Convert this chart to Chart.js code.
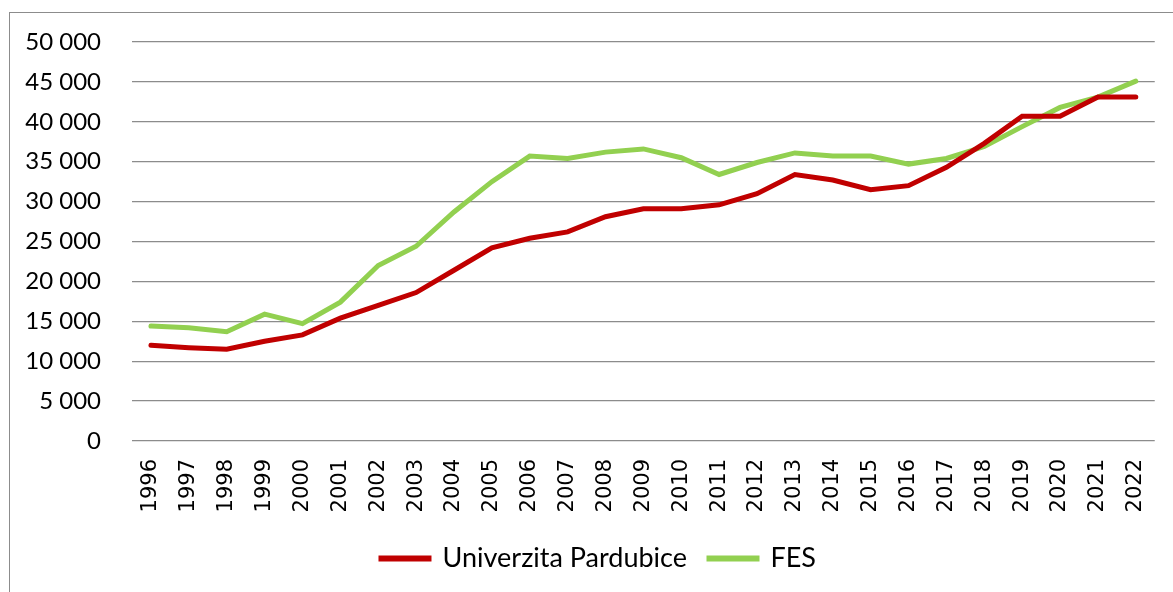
<!DOCTYPE html>
<html>
<head>
<meta charset="utf-8">
<script src="https://cdn.jsdelivr.net/npm/chart.js@4"></script>
<style>
  html, body { margin: 0; padding: 0; background: #fff; overflow: hidden; }
  #frame { position: absolute; left: 9px; top: 12px; width: 1300px; height: 700px; border: 1.5px solid #8c8c8c; }
  #wrap { position: absolute; left: 0; top: 0; width: 1173px; height: 592px; }
</style>
</head>
<body>
<div id="frame"></div>
<div id="wrap"><canvas id="lineChart"></canvas></div>
<script>
// years
const years = ["1996","1997","1998","1999","2000","2001","2002","2003","2004","2005","2006","2007","2008","2009",
  "2010","2011","2012","2013","2014","2015","2016","2017","2018","2019","2020","2021","2022"];

// Univerzita Pardubice
const upce = [12000, 11700, 11500, 12500, 13300, 15400, 17000, 18600, 21400, 24200, 25400, 26200, 28100, 29100,
  29100, 29600, 31000, 33400, 32700, 31500, 32000, 34300, 37300, 40700, 40700, 43100, 43100];

// FES
const fes = [14400, 14200, 13700, 15900, 14700, 17400, 22000, 24400, 28700, 32500, 35700, 35400, 36200, 36600,
  35500, 33400, 34900, 36100, 35700, 35700, 34700, 35400, 36900, 39400, 41800, 43100, 45100];

const yTicks = [0, 5000, 10000, 15000, 20000, 25000, 30000, 35000, 40000, 45000, 50000];

function fmt(v) {
  return String(v).replace(/\B(?=(\d{3})+(?!\d))/g, " ");
}

document.addEventListener("DOMContentLoaded", function () {
  const ctx = document.getElementById("lineChart").getContext("2d");
  new Chart(ctx, {
    type: "line",
    data: {
      labels: years,
      datasets: [
        {
          label: "Univerzita Pardubice",
          data: upce,
          borderColor: "#c00000",
          backgroundColor: "#c00000",
          borderWidth: 5,
          pointRadius: 0,
          tension: 0,
          borderCapStyle: "round",
        },
        {
          label: "FES",
          data: fes,
          borderColor: "#92d050",
          backgroundColor: "#92d050",
          borderWidth: 5,
          pointRadius: 0,
          tension: 0,
          borderCapStyle: "round",
        },
      ],
    },
    options: {
      responsive: true,
      maintainAspectRatio: false,
      animation: false,
      layout: { padding: { left: 24, right: 0, top: 42, bottom: 10 } },
      plugins: {
        tooltip: { enabled: false },
        legend: {
          position: "bottom",
          labels: {
            color: "#000",
            font: { family: "Lato", size: 27 },
            boxWidth: 48,
            boxHeight: 1,
            padding: 22,
          },
        },
      },
      scales: {
        x: {
          offset: true,
          // invisible ticks only push the labels down
          grid: { drawOnChartArea: false, drawTicks: true, tickLength: 6, tickColor: "rgba(0,0,0,0)" },
          border: { display: false },
          ticks: {
            color: "#000",
            font: { family: "DejaVu Sans", size: 21 },
            minRotation: 90,
            maxRotation: 90,
            autoSkip: false,
            padding: 12,
          },
          afterFit: function (scale) { scale.height = 82; },
        },
        y: {
          min: 0,
          max: 50000,
          afterBuildTicks: function (scale) {
            scale.ticks = yTicks.map(v => ({ value: v }));
          },
          grid: { color: "#8c8c8c", lineWidth: 1.3, drawTicks: true, tickLength: 28, tickColor: "rgba(0,0,0,0)" },
          border: { display: false },
          ticks: {
            color: "#000",
            font: { family: "Lato", size: 24 },
            padding: 3,
            callback: function (v) { return fmt(v); },
          },
          afterFit: function (scale) { scale.width = 108; },
        },
      },
    },
  });
});
</script>
</body>
</html>
